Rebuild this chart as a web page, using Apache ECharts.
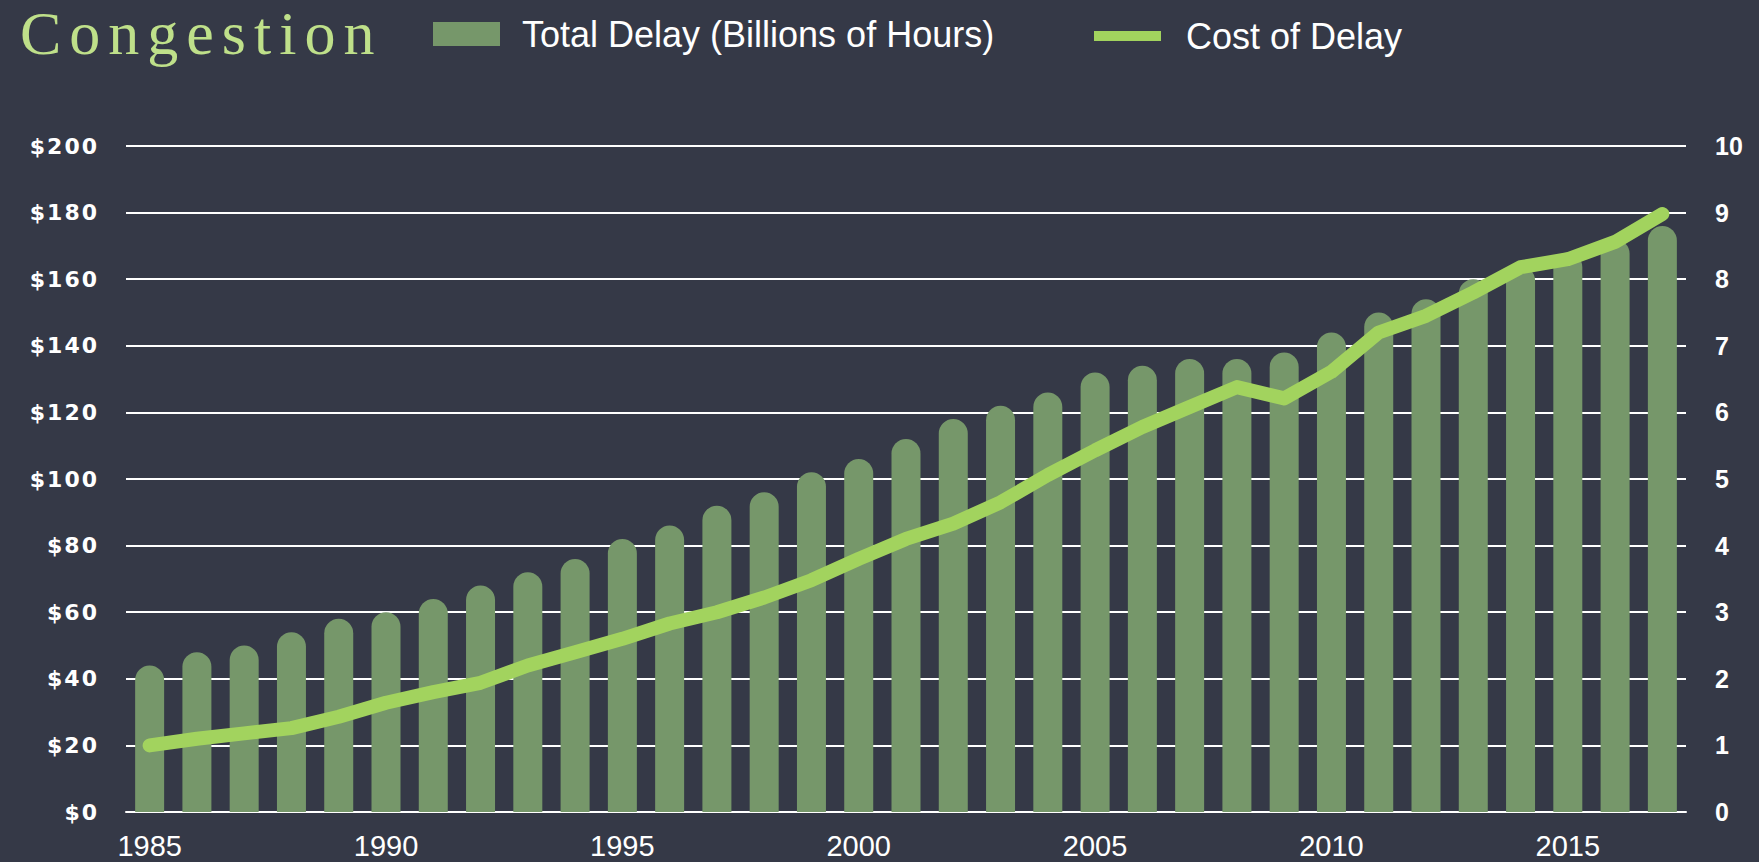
<!DOCTYPE html>
<html>
<head>
<meta charset="utf-8">
<title>Congestion</title>
<script src="https://cdn.jsdelivr.net/npm/echarts@6/dist/echarts.min.js"></script>
<style>
  html, body { margin: 0; padding: 0; background: #353947; }
  #chart { width: 1759px; height: 862px; }
</style>
</head>
<body>
<div id="chart"></div>
<script>
// data
const years = [
  '1985', '1986', '1987', '1988', '1989', '1990', '1991', '1992', '1993', '1994',
  '1995', '1996', '1997', '1998', '1999', '2000', '2001', '2002', '2003', '2004',
  '2005', '2006', '2007', '2008', '2009', '2010', '2011', '2012', '2013', '2014',
  '2015', '2016', '2017'
]
// bars, left axis ($)
const totalDelay = [
  44, 48, 50, 54, 58, 60, 64, 68, 72, 76,
  82, 86, 92, 96, 102, 106, 112, 118, 122, 126,
  132, 134, 136, 136, 138, 144, 150, 154, 160, 164,
  168, 172, 176
]
// line, right axis
const costOfDelay = [
  1.0, 1.1, 1.18, 1.26, 1.43, 1.64, 1.8, 1.94, 2.2, 2.4,
  2.6, 2.83, 3.0, 3.22, 3.48, 3.8, 4.1, 4.33, 4.65, 5.06,
  5.43, 5.78, 6.08, 6.38, 6.21, 6.61, 7.2, 7.45, 7.8, 8.18,
  8.3, 8.56, 8.98
]
const barName = 'Total Delay (Billions of Hours)'
const lineName = 'Cost of Delay'

const div = document.getElementById('chart')
const chart = echarts.init(div, null, { renderer: 'svg' })

chart.setOption({
  backgroundColor: '#353947',
  animation: false,
  title: {
    text: 'Congestion',
    left: 20,
    top: 2,
    padding: 0,
    textStyle: {
      fontFamily: 'Liberation Serif',
      fontWeight: 'normal',
      fontSize: 62,
      color: '#bfe08a',
    },
  },
  legend: [
    {
      data: [barName],
      left: 428,
      top: 11,
      icon: 'rect',
      itemWidth: 67,
      itemHeight: 24,
      textStyle: {
        color: '#ffffff',
        fontFamily: 'Liberation Sans',
        fontSize: 36,
        padding: [0, 0, 0, 17],
      },
    },
    {
      data: [lineName],
      left: 1089,
      top: 13,
      icon: 'rect',
      itemWidth: 67,
      itemHeight: 10,
      itemStyle: { color: '#a2d35e' },
      textStyle: {
        color: '#ffffff',
        fontFamily: 'Liberation Sans',
        fontSize: 36,
        padding: [0, 0, 0, 20],
      },
    },
  ],
  grid: {
    left: 126,
    right: 73,
    top: 146,
    bottom: 50,
  },
  xAxis: {
    type: 'category',
    data: years,
    axisLine: { lineStyle: { color: '#ffffff', width: 2 } },
    axisTick: { show: false },
    axisLabel: {
      interval: 4,
      color: '#ffffff',
      fontFamily: 'Liberation Sans',
      fontSize: 29,
      margin: 19,
    },
  },
  yAxis: [
    {
      type: 'value',
      min: 0,
      max: 200,
      interval: 20,
      axisLine: { show: false },
      axisTick: { show: false },
      splitLine: { lineStyle: { color: '#ffffff', width: 2 } },
      axisLabel: {
        formatter: v => '$' + v,
        color: '#ffffff',
        fontFamily: 'DejaVu Sans',
        fontWeight: 'bold',
        fontSize: 22,
        margin: 27,
        padding: [8, 0, 0, 0],
      },
    },
    {
      type: 'value',
      min: 0,
      max: 10,
      interval: 1,
      axisLine: { show: false },
      axisTick: { show: false },
      splitLine: { show: false },
      axisLabel: {
        color: '#ffffff',
        fontFamily: 'Liberation Sans',
        fontWeight: 'bold',
        fontSize: 25,
        margin: 29,
        padding: [8, 0, 0, 0],
      },
    },
  ],
  series: [
    {
      name: barName,
      type: 'bar',
      yAxisIndex: 0,
      barWidth: 29,
      itemStyle: {
        color: '#76976a',
        borderRadius: [14.5, 14.5, 0, 0],
      },
      data: totalDelay,
    },
    {
      name: lineName,
      type: 'line',
      yAxisIndex: 1,
      showSymbol: false,
      symbol: 'none',
      itemStyle: { color: '#a2d35e' },
      lineStyle: {
        color: '#a2d35e',
        width: 14,
        cap: 'round',
        join: 'round',
      },
      data: costOfDelay,
    },
  ],
})

// spaced-out lettering for the title and the $ labels
function spaceLetters() {
  div.querySelectorAll('text').forEach(t => {
    const s = t.textContent
    if (s === 'Congestion') t.setAttribute('letter-spacing', '8')
    else if (s.charAt(0) === '$') t.setAttribute('letter-spacing', '2')
  })
}
chart.on('finished', spaceLetters)
spaceLetters()
</script>
</body>
</html>
